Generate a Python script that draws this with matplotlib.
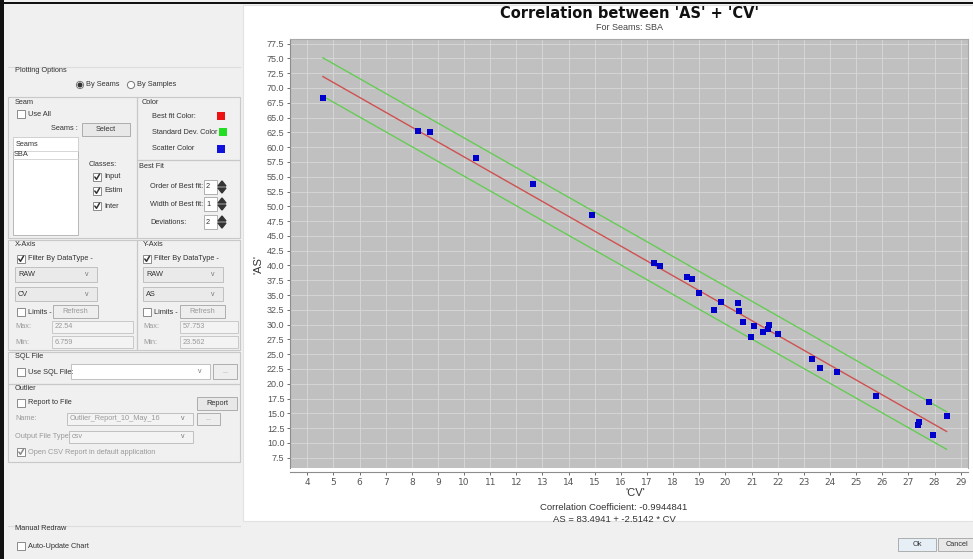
import matplotlib.pyplot as plt
from matplotlib.patches import Rectangle, Circle, Polygon

# scatter data ('CV' vs 'AS')
cv = [4.60, 8.22, 8.69, 10.47, 12.65, 14.89, 17.26, 17.49, 18.54, 18.71,
      18.98, 19.83, 19.56, 20.49, 20.52, 20.68, 21.08, 21.65, 21.61, 21.43,
      20.99, 22.02, 23.30, 23.61, 24.25, 25.77, 27.80, 28.46, 27.41, 27.37, 27.95]
as_vals = [68.35, 62.72, 62.50, 58.10, 53.70, 48.50, 40.40, 39.90, 38.10, 37.75,
           35.28, 33.76, 32.46, 33.65, 32.35, 30.50, 29.70, 29.93, 29.30, 28.70,
           27.90, 28.46, 24.13, 22.66, 21.93, 17.98, 17.00, 14.60, 13.58, 13.02, 11.33]

# best fit line and +/- deviation lines (end points)
fit_x = [4.60, 28.46]
fit_y = [71.93, 11.94]
upper_y = [75.10, 15.27]
lower_y = [68.60, 8.92]

x_ticks = list(range(4, 30))
y_ticks = [7.5 + 2.5 * i for i in range(29)]

title = "Correlation between 'AS' + 'CV'"
subtitle = "For Seams: SBA"
corr_text = "Correlation Coefficient: -0.9944841"
eq_text = "AS = 83.4941 + -2.5142 * CV"

W, H = 973, 559
FONT = "Liberation Sans"
TXT = "#333333"
DIS = "#9a9a9a"
EDGE = "#c8c8c8"
SMALL = 5.3

fig = plt.figure(figsize=(W / 100, H / 100), dpi=100)
bg = fig.add_axes([0, 0, 1, 1], zorder=0)
bg.set_xlim(0, W)
bg.set_ylim(H, 0)
bg.axis("off")


def rect(x0, y0, x1, y1, fc="none", ec=EDGE, lw=0.8, z=1):
    bg.add_patch(Rectangle((x0, y0), x1 - x0, y1 - y0, facecolor=fc,
                           edgecolor=ec, lw=lw, zorder=z))


def label(x, y, s, color=TXT, size=SMALL, ha="left", **kw):
    bg.text(x, y, s, ha=ha, va="center", fontsize=size, color=color,
            family=FONT, zorder=5, **kw)


def checkbox(x, y, text, checked=False, enabled=True):
    rect(x, y - 4, x + 8, y + 4, fc="white", ec="#8a8a8a", lw=0.7, z=3)
    if checked:
        c = "#333333" if enabled else "#888888"
        bg.plot([x + 1.8, x + 3.5, x + 6.5], [y, y + 2.3, y - 2.8], color=c,
                lw=1.1, zorder=4, solid_capstyle="round")
    label(x + 11, y, text, color=TXT if enabled else DIS)


def button(x0, y0, x1, y1, text, enabled=True, fc="#e8e8e8"):
    rect(x0, y0, x1, y1, fc=fc, ec="#adadad", lw=0.7, z=3)
    label((x0 + x1) / 2, (y0 + y1) / 2, text, color=TXT if enabled else DIS, ha="center")


def combo(x0, y0, x1, y1, text, enabled=True, fc="#eaeaea"):
    rect(x0, y0, x1, y1, fc=fc, ec="#c0c0c0", lw=0.7, z=3)
    label(x0 + 3, (y0 + y1) / 2, text, color=TXT if enabled else DIS)
    label(x1 - 12, (y0 + y1) / 2, "v", color="#777777", size=5)


def field(x0, y0, x1, y1, text, color=DIS):
    rect(x0, y0, x1, y1, fc="#f3f3f3", ec="#c8c8c8", lw=0.7, z=3)
    label(x0 + 3, (y0 + y1) / 2, text, color=color)


def spinner(y, val):
    rect(204, y - 7, 217, y + 7, fc="white", ec="#b0b0b0", lw=0.7, z=3)
    label(206, y, val)
    bg.add_patch(Polygon([[218, y - 1], [226, y - 1], [222, y - 6]], color="#333333", zorder=4))
    bg.add_patch(Polygon([[218, y + 1], [226, y + 1], [222, y + 6]], color="#333333", zorder=4))


# window background
rect(0, 0, W, H, fc="#f0f0f0", ec="none", z=0)
rect(243, 5, W, 521, fc="white", ec="#e2e2e2", z=0.5)
rect(0, 0, 4, H, fc="#111111", ec="none", z=6)
rect(0, 2, W, 4, fc="#111111", ec="none", z=6)

# ---- left control panel ----
label(15, 71, "Plotting Options")
bg.plot([8, 240], [67, 67], color="#dddddd", lw=0.8, zorder=1)
bg.add_patch(Circle((80, 85), 3.6, facecolor="white", edgecolor="#777777", lw=0.7, zorder=3))
bg.add_patch(Circle((80, 85), 1.8, color="#333333", zorder=4))
label(86, 85, "By Seams")
bg.add_patch(Circle((131, 85), 3.6, facecolor="white", edgecolor="#777777", lw=0.7, zorder=3))
label(137, 85, "By Samples")

rect(8, 97, 137, 238)
rect(137, 97, 240, 160)
rect(137, 160, 240, 238)
label(15, 102, "Seam")
label(142, 102, "Color")
checkbox(17, 114, "Use All")
label(78, 129, "Seams :", ha="right")
button(82, 123, 130, 136, "Select")
rect(13, 137, 78, 235, fc="white", ec="#b8b8b8", lw=0.7, z=3)
rect(13, 137, 78, 151, fc="white", ec="#d0d0d0", lw=0.6, z=3)
label(16, 145, "Seams")
label(14, 155, "SBA")
bg.plot([13, 78], [159, 159], color="#d0d0d0", lw=0.6, zorder=4)
label(89, 164, "Classes:")
checkbox(93, 177, "Input", checked=True)
checkbox(93, 191, "Estim", checked=True)
checkbox(93, 206, "Inter", checked=True)

label(152, 116, "Best fit Color:")
rect(217, 112, 225, 120, fc="#ee1111", ec="none", z=3)
label(152, 133, "Standard Dev. Color")
rect(219, 128, 227, 136, fc="#22dd22", ec="none", z=3)
label(152, 149, "Scatter Color")
rect(217, 145, 225, 153, fc="#1111dd", ec="none", z=3)

label(139, 167, "Best Fit")
label(150, 187, "Order of Best fit:")
spinner(187, "2")
label(150, 204, "Width of Best fit:")
spinner(204, "1")
label(150, 222, "Deviations:")
spinner(222, "2")

rect(8, 240, 137, 350)
rect(137, 240, 240, 350)
label(15, 245, "X-Axis")
label(143, 245, "Y-Axis")
checkbox(17, 259, "Filter By DataType -", checked=True)
checkbox(143, 259, "Filter By DataType -", checked=True)
combo(15, 267, 97, 282, "RAW")
combo(15, 287, 97, 301, "CV")
combo(143, 267, 223, 282, "RAW")
combo(143, 287, 223, 301, "AS")
checkbox(17, 312, "Limits -")
button(53, 305, 98, 318, "Refresh", enabled=False, fc="#eeeeee")
checkbox(143, 312, "Limits -")
button(180, 305, 225, 318, "Refresh", enabled=False, fc="#eeeeee")
label(15, 327, "Max:", color=DIS)
field(52, 321, 133, 333, "22.54")
label(15, 342, "Min:", color=DIS)
field(52, 336, 133, 348, "6.759")
label(143, 327, "Max:", color=DIS)
field(180, 321, 238, 333, "57.753")
label(143, 342, "Min:", color=DIS)
field(180, 336, 238, 348, "23.562")

rect(8, 352, 240, 384)
label(15, 357, "SQL File")
checkbox(17, 372, "Use SQL File:")
combo(71, 364, 210, 379, "", fc="white")
button(213, 364, 237, 379, "...", enabled=False, fc="#eeeeee")

rect(8, 384, 240, 462)
label(15, 389, "Outlier")
checkbox(17, 403, "Report to File")
button(197, 397, 237, 410, "Report")
label(15, 418, "Name:", color=DIS)
combo(67, 413, 193, 425, "Outlier_Report_10_May_16", enabled=False, fc="#f3f3f3")
button(197, 413, 220, 425, "...", enabled=False, fc="#eeeeee")
label(15, 437, "Output File Type:", color=DIS)
combo(69, 431, 193, 443, "csv", enabled=False, fc="#f3f3f3")
checkbox(17, 452, "Open CSV Report in default application", checked=True, enabled=False)

bg.plot([8, 240], [526, 526], color="#dddddd", lw=0.8, zorder=1)
label(15, 529, "Manual Redraw")
checkbox(17, 546, "Auto-Update Chart")

# bottom buttons
button(898, 538, 936, 551, "Ok", fc="#e6eef6")
button(938, 538, 976, 551, "Cancel")

# ---- chart ----
px0, py0, px1, py1 = 290, 39, 968, 468
ax = fig.add_axes([px0 / W, 1 - py1 / H, (px1 - px0) / W, (py1 - py0) / H], zorder=2)
ax.set_facecolor("#c0c0c0")
ax.plot(fit_x, upper_y, color="#66cc55", lw=1.0, zorder=3)
ax.plot(fit_x, lower_y, color="#66cc55", lw=1.0, zorder=3)
ax.plot(fit_x, fit_y, color="#d05050", lw=1.0, zorder=3)
ax.scatter(cv, as_vals, marker="s", s=16, color="#0000cc", zorder=4, linewidths=0)

ax.set_xlim(3.34, 29.28)
ax.set_ylim(5.76, 78.28)
ax.set_xticks(x_ticks)
ax.set_yticks(y_ticks)
ax.set_yticklabels([f"{v:.1f}" for v in y_ticks])
ax.grid(True, color="#d8d8d8", lw=0.6)
ax.set_axisbelow(True)
ax.tick_params(axis="both", labelsize=6.5, colors="#555555", length=2, width=0.6, pad=2)
for t in ax.get_xticklabels() + ax.get_yticklabels():
    t.set_family(FONT)
for side in ["top", "right"]:
    ax.spines[side].set_color("#a8a8a8")
    ax.spines[side].set_linewidth(0.8)
ax.spines["left"].set_color("#8c8c8c")
ax.spines["bottom"].set_color("#8c8c8c")
ax.spines["bottom"].set_position(("outward", 3))
ax.spines["left"].set_linewidth(0.8)
ax.spines["bottom"].set_linewidth(0.8)

label(258, 265, "'AS'", size=8, color="#333333", rotation=90, ha="center")
label(635, 493, "'CV'", size=8, color="#333333", ha="center")
bg.text(629, 13, title, ha="center", va="center", fontsize=10.5, fontweight="bold",
        color="#111111", family="DejaVu Sans", zorder=5)
label(629, 27, subtitle, size=6.5, ha="center", color="#444444")
label(614, 508, corr_text, size=6.8, ha="center")
label(614, 519, eq_text, size=6.8, ha="center")

fig.savefig("out.png", dpi=100)
